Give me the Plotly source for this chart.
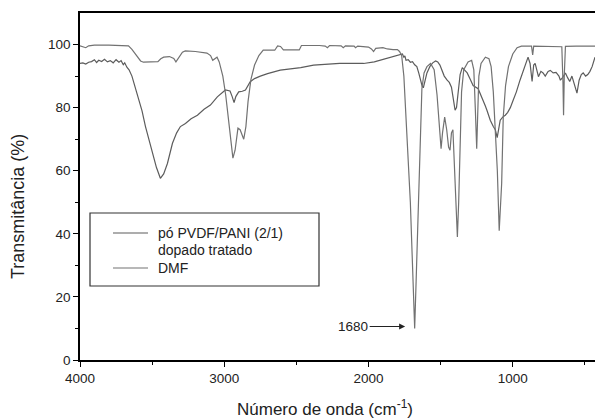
import plotly.graph_objects as go

# ---------------- data ----------------
wn_dmf = [4000, 3980, 3960, 3940, 3900, 3800, 3700, 3664, 3640, 3610, 3580, 3560, 3500, 3460,
          3440, 3420, 3380, 3350, 3335, 3315, 3290, 3270, 3200, 3120, 3095, 3080, 3065, 3050,
          3035, 3010, 2990, 2970, 2955, 2940, 2925, 2905, 2890, 2875, 2865, 2850, 2835, 2815,
          2790, 2760, 2730, 2650, 2630, 2610, 2590, 2480, 2465, 2340, 2300, 2285, 2270, 2190,
          2175, 2160, 2100, 2090, 2075, 2000, 1980, 1965, 1950, 1900, 1870, 1830, 1800, 1785,
          1770, 1755, 1740, 1725, 1710, 1695, 1680, 1670, 1660, 1650, 1640, 1630, 1615, 1595,
          1570, 1545, 1525, 1510, 1497, 1487, 1472, 1458, 1445, 1435, 1425, 1415, 1405, 1395,
          1384, 1375, 1365, 1355, 1340, 1310, 1285, 1270, 1260, 1250, 1243, 1235, 1220, 1190,
          1165, 1150, 1135, 1120, 1107, 1094, 1085, 1077, 1066, 1050, 1030, 1000, 970, 940,
          870, 862, 855, 800, 700, 660, 652, 648, 643, 635, 560, 430]
t_dmf = [99.6, 99.4, 99.0, 99.6, 99.8, 99.8, 99.8, 99.6, 98.5, 96.5, 94.8, 94.4, 94.5, 94.6,
         95.5, 96.0, 96.2, 95.6, 94.5, 95.8, 97.6, 98.0, 97.8, 97.3, 96.5, 95.0, 95.5, 96.0,
         94.5, 90.0, 84.0, 76.0, 69.0, 64.0, 66.5, 73.5, 73.0, 71.0, 70.0, 74.0, 82.0, 89.0,
         93.5, 96.5, 98.2, 98.2, 99.6, 99.4, 98.3, 98.3, 99.7, 99.7, 99.5, 99.0, 99.7, 99.6,
         99.0, 99.6, 99.5, 99.0, 99.5, 99.2, 98.6, 97.8, 98.8, 99.0, 98.6, 98.4, 98.4, 97.8,
         96.5, 90.0, 78.0, 64.0, 50.0, 30.0, 10.0, 25.0, 42.0, 58.0, 75.0, 86.0, 91.0, 93.0,
         94.0, 92.0, 84.0, 74.0, 67.0, 72.0, 77.0, 73.0, 67.5, 66.5, 72.0, 73.0, 63.0, 50.0,
         39.0, 50.0, 70.0, 85.0, 92.0, 94.5, 95.0, 92.0, 80.0, 67.0, 78.0, 90.0, 94.0, 96.0,
         95.5, 93.0, 85.0, 72.0, 60.0, 41.0, 50.0, 56.0, 77.0, 87.0, 93.0, 97.0, 99.0, 99.5,
         99.5, 96.7, 99.5, 99.5, 99.4, 99.3, 88.0, 77.6, 90.0, 99.4, 99.5, 99.5]

wn_pvdf = [4000, 3980, 3960, 3940, 3920, 3900, 3885, 3870, 3850, 3830, 3810, 3790, 3770, 3750,
           3730, 3715, 3700, 3690, 3675, 3660, 3640, 3620, 3595, 3570, 3546, 3520, 3498, 3470,
           3443, 3420, 3394, 3375, 3359, 3330, 3304, 3269, 3230, 3186, 3140, 3096, 3048, 2992,
           2960, 2945, 2932, 2920, 2900, 2875, 2853, 2820, 2790, 2750, 2700, 2612, 2550, 2470,
           2381, 2300, 2200, 2100, 2034, 1960, 1919, 1860, 1800, 1780, 1765, 1755, 1748, 1740,
           1725, 1710, 1695, 1680, 1665, 1652, 1640, 1628, 1620, 1610, 1595, 1575, 1555, 1535,
           1520, 1505, 1490, 1475, 1455, 1440, 1425, 1412, 1400, 1390, 1380, 1365, 1350, 1330,
           1316, 1295, 1275, 1240, 1220, 1206, 1190, 1178, 1156, 1135, 1121, 1108, 1095, 1087,
           1070, 1052, 1035, 1017, 1000, 975, 950, 930, 915, 894, 880, 866, 855, 845, 822, 805,
           790, 775, 755, 740, 720, 700, 680, 670, 655, 635, 620, 605, 590, 570, 555, 540, 525,
           512, 495, 480, 465, 450, 430]
t_pvdf = [94.0, 94.2, 93.8, 94.4, 94.6, 95.2, 94.3, 95.0, 94.6, 95.3, 94.5, 94.9, 94.2, 95.2,
          94.4, 94.9, 93.6, 94.2, 92.8, 92.0, 90.0, 87.0, 83.4, 79.0, 74.0, 69.5, 65.5, 61.0,
          57.6, 59.0, 62.3, 66.0, 68.7, 72.0, 74.0, 75.0, 76.5, 77.6, 79.5, 80.8, 83.4, 85.6,
          85.3, 83.5, 81.6, 83.5, 85.0, 85.2, 85.6, 88.2, 89.2, 90.0, 90.8, 91.9, 92.2, 92.7,
          93.5, 93.8, 94.0, 94.0, 94.0, 94.5, 95.0, 95.8, 96.5, 96.8, 97.0, 96.0, 96.4, 95.0,
          95.2, 94.4, 94.6, 93.6, 93.0, 91.0, 88.5, 86.8, 86.3, 88.0, 91.0, 93.0, 94.2, 94.8,
          94.5, 93.5, 91.5, 90.0, 88.7, 88.0, 86.5, 82.0, 79.2, 80.0, 85.0, 90.5, 92.7, 91.8,
          91.0, 89.0, 87.0, 86.0, 84.0, 82.4, 80.5, 79.0, 76.0, 74.0, 73.0, 70.5, 74.0, 76.0,
          77.0, 77.6, 78.5, 80.0, 82.0, 85.0, 88.7, 91.5, 93.0, 96.0, 94.0, 88.3, 93.5, 94.0,
          89.8, 91.5, 91.0, 90.0, 91.5, 91.8, 91.0, 91.2, 90.0, 88.7, 89.5, 91.0, 89.5, 88.3,
          90.0, 87.0, 84.6, 88.7, 90.5, 91.0, 90.0, 90.5, 91.5, 93.0, 96.0]

x_ticks = [4000, 3000, 2000, 1000]
x_minor = [3500, 2500, 1500, 500]
y_ticks = [0, 20, 40, 60, 80, 100]
y_minor = [10, 30, 50, 70, 90]

name_pvdf = "pó PVDF/PANI (2/1)<br>dopado tratado"
name_dmf = "DMF"
peak_label = "1680"
peak_x = 1746
peak_y = 10.6

# ---------------- layout geometry ----------------
W, H = 595, 420
L, R, T, B = 80, 0, 13, 60
FONT = "Arial, Liberation Sans, Helvetica, sans-serif"
TXT = "#222222"


def px_x(px):
    return (px - L) / (W - L - R)


def px_y(py):
    return (H - B - py) / (H - T - B)


fig = go.Figure()
fig.add_trace(go.Scatter(x=wn_pvdf, y=t_pvdf, mode="lines", name=name_pvdf,
                         line=dict(color="#5c5c5c", width=1.2), showlegend=False))
fig.add_trace(go.Scatter(x=wn_dmf, y=t_dmf, mode="lines", name=name_dmf,
                         line=dict(color="#727272", width=1.2), showlegend=False))

fig.update_layout(
    width=W, height=H,
    margin=dict(l=L, r=R, t=T, b=B, pad=0),
    paper_bgcolor="white", plot_bgcolor="white",
    font=dict(family=FONT, size=13.5, color=TXT),
    xaxis=dict(range=[4000, 430], tickvals=x_ticks, ticks="outside", ticklen=5,
               tickwidth=1.3, tickcolor="black", showline=True, linecolor="black",
               linewidth=1.5, mirror=True, showgrid=False, zeroline=False,
               minor=dict(tickvals=x_minor, ticks="outside", ticklen=3, tickcolor="black",
                          showgrid=False),
               tickfont=dict(size=13.5, color=TXT)),
    yaxis=dict(range=[0, 110], tickvals=y_ticks, ticks="outside", ticklen=5,
               tickwidth=1.3, tickcolor="black", showline=True, linecolor="black",
               linewidth=1.5, mirror=False, showgrid=False, zeroline=False,
               minor=dict(tickvals=y_minor, ticks="outside", ticklen=3, tickcolor="black",
                          showgrid=False),
               tickfont=dict(size=13.5, color=TXT)),
)

# axis titles
fig.add_annotation(text="Número de onda (cm<sup>-1</sup>)", xref="paper", yref="paper",
                   x=px_x(325), y=px_y(408), showarrow=False,
                   font=dict(size=17, color=TXT), xanchor="center", yanchor="middle")
fig.add_annotation(text="Transmitância (%)", xref="paper", yref="paper",
                   x=px_x(18), y=px_y(207), showarrow=False, textangle=-90,
                   font=dict(size=18, color=TXT), xanchor="center", yanchor="middle")

# peak label with arrow
fig.add_annotation(text=peak_label, x=peak_x, y=peak_y, xref="x", yref="y",
                   showarrow=True, ax=-52, ay=0, arrowhead=2, arrowsize=1.1,
                   arrowwidth=1.1, arrowcolor="#222222", font=dict(size=13.5, color=TXT))

# legend box (drawn manually to match the reference frame)
fig.add_shape(type="rect", xref="paper", yref="paper",
              x0=px_x(90), x1=px_x(319), y0=px_y(286), y1=px_y(213),
              line=dict(color="#333333", width=1.2), fillcolor="white", layer="above")
fig.add_shape(type="line", xref="paper", yref="paper",
              x0=px_x(113), x1=px_x(148), y0=px_y(233), y1=px_y(233),
              line=dict(color="#5c5c5c", width=1.2))
fig.add_shape(type="line", xref="paper", yref="paper",
              x0=px_x(113), x1=px_x(148), y0=px_y(268), y1=px_y(268),
              line=dict(color="#727272", width=1.2))
for txt, ypx in [("pó PVDF/PANI (2/1)", 233), ("dopado tratado", 250), ("DMF", 268)]:
    fig.add_annotation(text=txt, xref="paper", yref="paper", x=px_x(156), y=px_y(ypx),
                       showarrow=False, xanchor="left", yanchor="middle",
                       font=dict(size=14, color=TXT))

fig.write_html("out.html")
